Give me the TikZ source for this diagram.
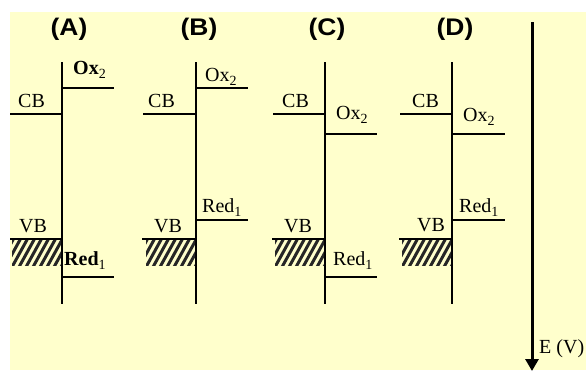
\documentclass[tikz,border=0pt]{standalone}
\usepackage{fontspec}
\setmainfont{Liberation Serif}
\newfontfamily\headfont[FakeStretch=1.1]{Liberation Sans}
\usetikzlibrary{arrows.meta}
\definecolor{PanelBg}{HTML}{FFFFCC}
\newcommand{\lsub}[1]{\raisebox{-4.5pt}{\fontsize{14}{14}\selectfont #1}}
% hatched valence band block below the VB level, #1 = axis x
\newcommand{\hatchbox}[1]{%
  \begin{scope}
    \clip (#1-50,240) rectangle (#1-1,265);
    \foreach \s in {-21,-14,...,56}
      \draw[line width=3pt, black!85] (#1-50+\s,267) -- ++(16,-29);
  \end{scope}}
\tikzset{
  axisline/.style={line width=2.5pt},
  levelline/.style={line width=1.6pt},
  lvl/.style={font=\fontsize{20}{22}\selectfont, inner sep=0pt, anchor=base west},
  panel/.style={font=\headfont\bfseries\fontsize{24}{26}\selectfont, inner sep=0pt, anchor=base},
}
\begin{document}
\begin{tikzpicture}[x=1pt, y=-1pt]
  \useasboundingbox (0,0) rectangle (586,370);
  \fill[PanelBg] (10,12) rectangle (586,370);
  % Panel A
  \node[panel] (labA) at (69,35) {(A)};
  \draw[axisline] (62,62) -- (62,304);
  \draw[levelline] (10,114) -- (62,114);
  \draw[levelline] (10,239) -- (62,239);
  \draw[levelline] (62,88) -- (114,88);
  \draw[levelline] (62,277) -- (114,277);
  \hatchbox{62}
  \node[lvl] (cbA) at (18,107) {CB};
  \node[lvl] (vbA) at (19,232) {VB};
  \node[lvl] (oxA) at (73,74) {\textbf{Ox}\lsub{2}};
  \node[lvl] (redA) at (64,265) {\textbf{Red}\lsub{1}};
  % Panel B
  \node[panel] (labB) at (199,35) {(B)};
  \draw[axisline] (196,62) -- (196,304);
  \draw[levelline] (143,114) -- (196,114);
  \draw[levelline] (142,239) -- (196,239);
  \draw[levelline] (196,88) -- (248,88);
  \draw[levelline] (196,220) -- (248,220);
  \hatchbox{196}
  \node[lvl] (cbB) at (148,107) {CB};
  \node[lvl] (vbB) at (154,232) {VB};
  \node[lvl] (oxB) at (205,81) {Ox\lsub{2}};
  \node[lvl] (redB) at (202,212) {Red\lsub{1}};
  % Panel C
  \node[panel] (labC) at (327,35) {(C)};
  \draw[axisline] (325,62) -- (325,304);
  \draw[levelline] (273,114) -- (325,114);
  \draw[levelline] (272,239) -- (325,239);
  \draw[levelline] (325,134) -- (377,134);
  \draw[levelline] (325,277) -- (377,277);
  \hatchbox{325}
  \node[lvl] (cbC) at (282,107) {CB};
  \node[lvl] (vbC) at (284,232) {VB};
  \node[lvl] (oxC) at (336,119) {Ox\lsub{2}};
  \node[lvl] (redC) at (333,265) {Red\lsub{1}};
  % Panel D
  \node[panel] (labD) at (455,35) {(D)};
  \draw[axisline] (452,62) -- (452,304);
  \draw[levelline] (400,114) -- (452,114);
  \draw[levelline] (399,239) -- (452,239);
  \draw[levelline] (452,134) -- (505,134);
  \draw[levelline] (452,220) -- (505,220);
  \hatchbox{452}
  \node[lvl] (cbD) at (412,107) {CB};
  \node[lvl] (vbD) at (417,231) {VB};
  \node[lvl] (oxD) at (463,121) {Ox\lsub{2}};
  \node[lvl] (redD) at (459,212) {Red\lsub{1}};
  % energy axis
  \coordinate (etop) at (532,22);
  \coordinate (ebot) at (532,371);
  \draw[line width=3pt, -{Triangle[length=12pt,width=13pt]}] (etop) -- (ebot);
  \node[lvl] (elab) at (539,353) {E (V)};
\end{tikzpicture}
\end{document}
